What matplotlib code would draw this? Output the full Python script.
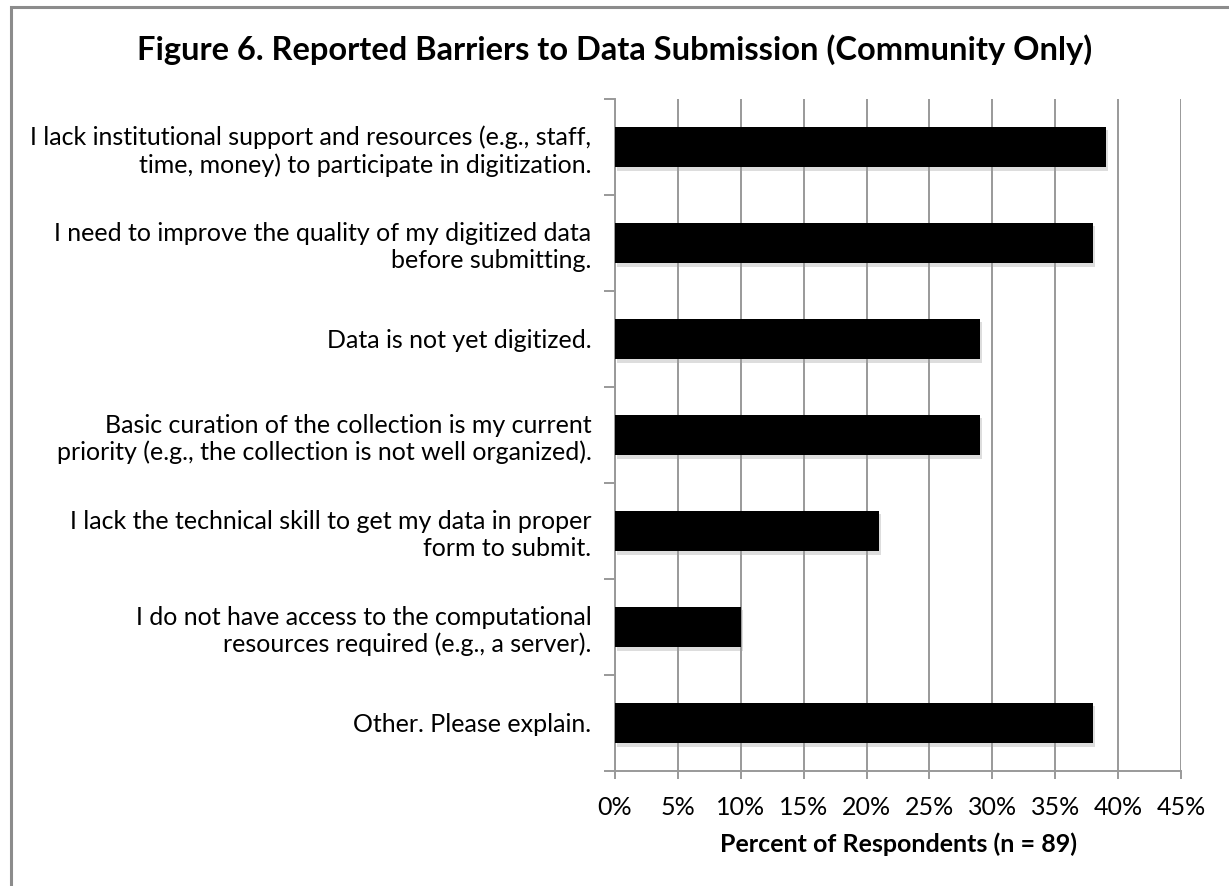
import matplotlib
matplotlib.use("Agg")
import matplotlib.pyplot as plt
import matplotlib.patheffects as pe
from matplotlib.patches import Rectangle
from matplotlib.ticker import FixedLocator, FuncFormatter

plt.rcParams['font.family'] = ['Lato', 'DejaVu Sans']

categories = [
    "I lack institutional support and resources (e.g., staff,\ntime, money) to participate in digitization.",
    "I need to improve the quality of my digitized data\nbefore submitting.",
    "Data is not yet digitized.",
    "Basic curation of the collection is my current\npriority (e.g., the collection is not well organized).",
    "I lack the technical skill to get my data in proper\nform to submit.",
    "I do not have access to the computational\nresources required (e.g., a server).",
    "Other. Please explain.",
]
percents = [39, 38, 29, 29, 21, 10, 38]
x_ticks = [0, 5, 10, 15, 20, 25, 30, 35, 40, 45]

W, H = 1229, 886
fig = plt.figure(figsize=(W / 100, H / 100), dpi=100)
fig.patch.set_facecolor('white')

# outer chart frame (left and top edges visible)
frame = Rectangle((11 / W, -0.2), 1.2, 1.2 - 7 / H, transform=fig.transFigure,
                  fill=False, edgecolor='#8c8c8c', linewidth=2.2, clip_on=False)
fig.add_artist(frame)

ax_left, ax_right = 615 / W, 1181 / W
ax_top, ax_bottom = 1 - 99 / H, 1 - 771 / H
ax = fig.add_axes([ax_left, ax_bottom, ax_right - ax_left, ax_top - ax_bottom])

n = len(categories)
ypos = list(range(n))
bars = ax.barh(ypos, percents, height=0.42, color='black', zorder=3)
for b in bars:
    b.set_path_effects([pe.SimplePatchShadow(offset=(1.5, -2.5), shadow_rgbFace='#a0a0a0', alpha=0.35),
                        pe.Normal()])

ax.set_xlim(0, 45)
ax.set_ylim(n - 0.5, -0.5)

ax.xaxis.set_major_locator(FixedLocator(x_ticks))
ax.xaxis.set_major_formatter(FuncFormatter(lambda v, p: f"{int(v)}%"))
ax.grid(axis='x', color='#999999', linewidth=1.4, zorder=0)
ax.set_axisbelow(True)

ax.set_yticks(ypos)
ax.set_yticklabels(categories, fontsize=18, color='black', ha='right',
                   multialignment='right')
ax.yaxis.set_minor_locator(FixedLocator([i - 0.5 for i in range(n + 1)]))
ax.tick_params(axis='y', which='major', length=0, pad=17)
ax.tick_params(axis='y', which='minor', length=8, width=1.4, color='#999999')
ax.tick_params(axis='x', which='major', length=6, width=1.4, color='#999999',
               labelsize=18, pad=12, labelcolor='black')

for s in ['top', 'right']:
    ax.spines[s].set_visible(False)
for s in ['left', 'bottom']:
    ax.spines[s].set_color('#999999')
    ax.spines[s].set_linewidth(1.4)

ax.set_xlabel("Percent of Respondents (n = 89)", fontsize=18, fontweight='bold',
              labelpad=10)

fig.text(0.5, 1 - 50 / H, "Figure 6. Reported Barriers to Data Submission (Community Only)",
         ha='center', va='center', fontsize=23.5, fontweight='bold')

fig.savefig("out.png", dpi=100)
